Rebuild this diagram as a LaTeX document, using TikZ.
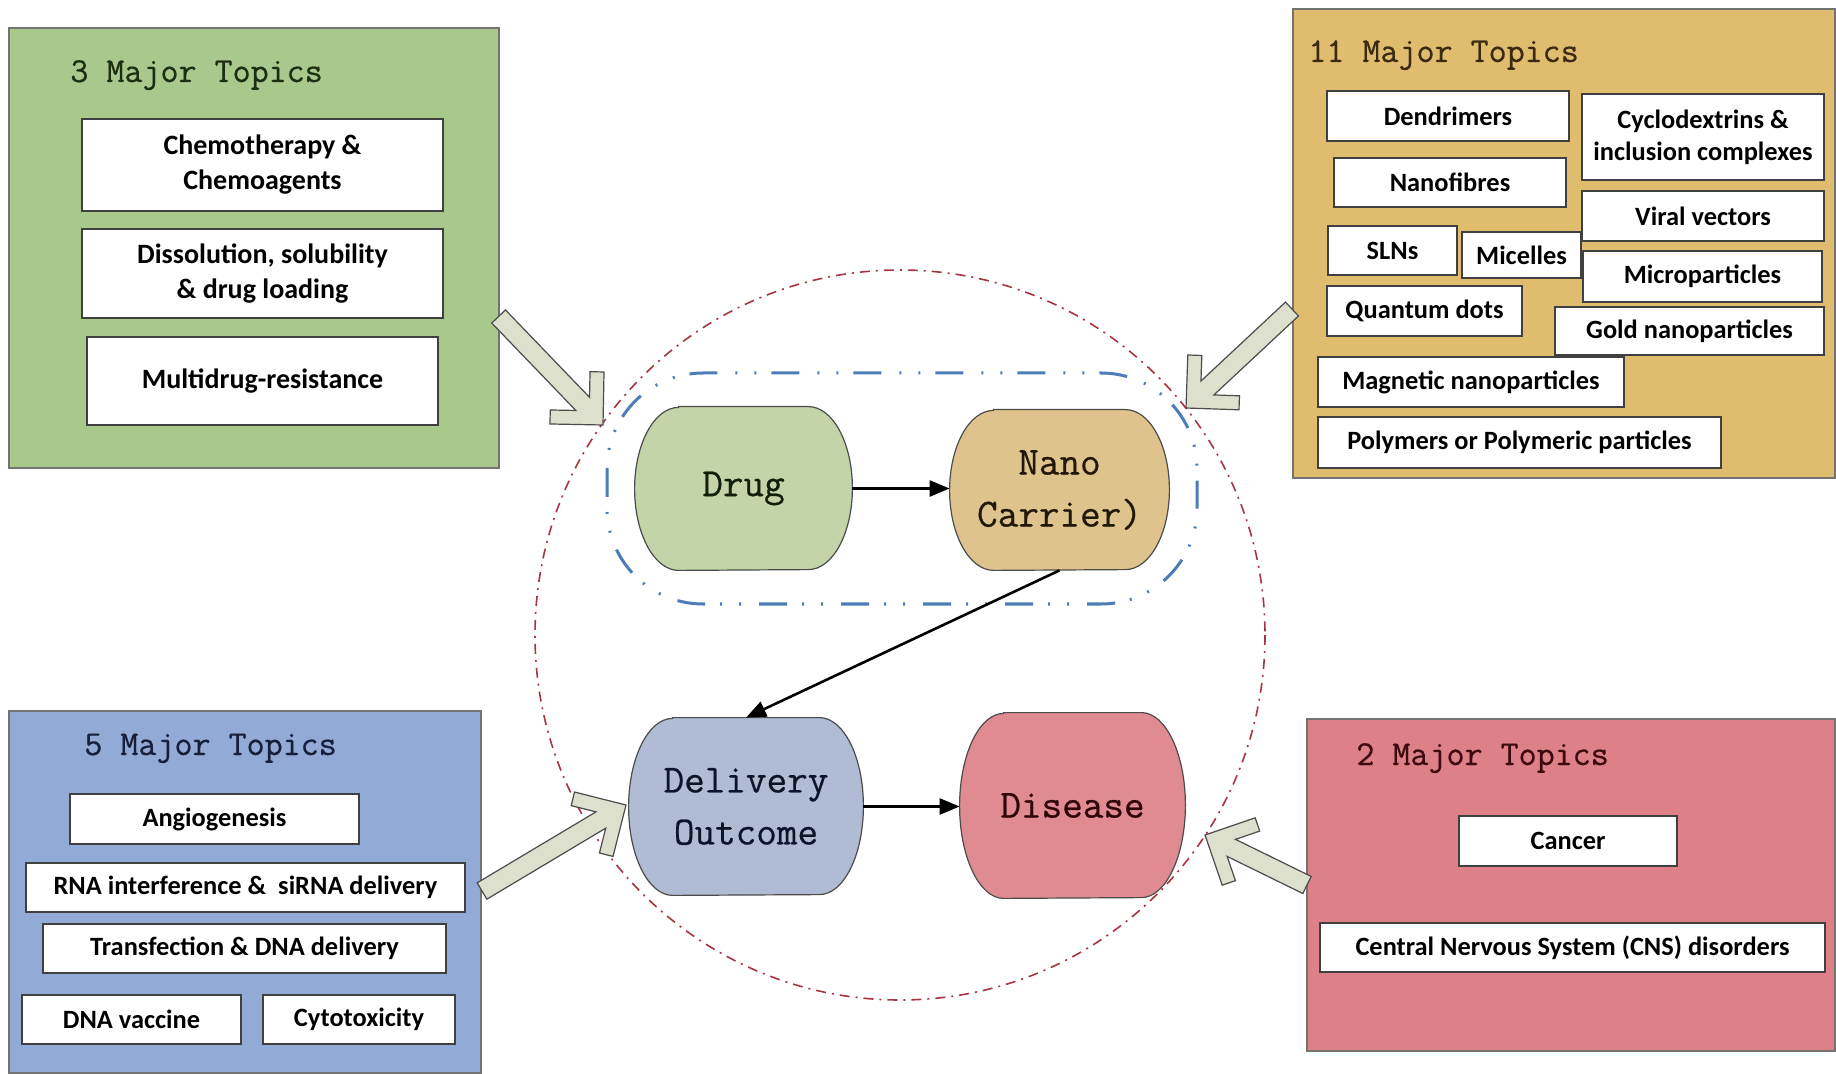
\documentclass[tikz,border=0pt]{standalone}
\usepackage{fontspec}
\newfontfamily\cbf{Carlito}
\newfontfamily\monof{Latin Modern Mono}[FakeBold=0.6]
\usetikzlibrary{arrows.meta}
\definecolor{gbg}{HTML}{A8C88C}
\definecolor{ybg}{HTML}{DFBC6E}
\definecolor{bbg}{HTML}{92AAD6}
\definecolor{rbg}{HTML}{DE8088}
\definecolor{drugc}{HTML}{C2D4A8}
\definecolor{nanoc}{HTML}{DEC48C}
\definecolor{delc}{HTML}{B0BCD4}
\definecolor{disc}{HTML}{E08A92}
\definecolor{arrowfill}{HTML}{DCE0CC}
\definecolor{circred}{HTML}{A83440}
\definecolor{blued}{HTML}{4C7DB8}
\definecolor{gtxt}{HTML}{1E2E12}
\definecolor{ytxt}{HTML}{3A2A10}
\definecolor{btxt}{HTML}{16203A}
\definecolor{rtxt}{HTML}{3E0A10}
\definecolor{gntxt}{HTML}{141E0A}
\definecolor{yntxt}{HTML}{22180A}
\definecolor{bntxt}{HTML}{0C1428}
\definecolor{rntxt}{HTML}{2E0408}
\pgfdeclarelayer{bg}
\pgfsetlayers{bg,main}
\newcommand\bigarrowshape[1]{%
  \draw[bigarr] (0,0) -- (-37.5,37.5) -- (-47.4,27.6) -- (-29.3,9.5) -- (-#1,9.5)
    -- (-#1,-9.5) -- (-29.3,-9.5) -- (-47.4,-27.6) -- (-37.5,-37.5) -- cycle;}
% barrel outline behind a node: #1 node, #2 fill, #3 half height (pt)
\newcommand\barrelshape[3]{%
  \draw[barrel, fill=#2] ([xshift=22pt]#1.north west) -- ([xshift=-22pt]#1.north east)
    arc[start angle=90, end angle=-90, x radius=22pt, y radius=#3]
    -- ([xshift=22pt]#1.south west)
    arc[start angle=270, end angle=90, x radius=22pt, y radius=#3] -- cycle;}
\tikzset{
  outerbox/.style={draw=black!55, line width=0.8pt},
  ibox/.style={draw=black!75, line width=0.7pt, fill=white, inner sep=0pt, align=center,
    font=\cbf\bfseries\fontsize{13.2pt}{16pt}\selectfont},
  gibox/.style={ibox, font=\cbf\bfseries\fontsize{14pt}{17.5pt}\selectfont},
  ttl/.style={anchor=base west, inner sep=0pt, font=\monof\fontsize{17.5pt}{20pt}\selectfont},
  core/.style={inner sep=0pt, align=center, font=\monof\fontsize{20pt}{26pt}\selectfont},
  barrel/.style={draw=black!70, line width=0.6pt},
  link/.style={line width=1.3pt, -{Triangle[length=10pt,width=8pt]}},
  bigarr/.style={draw=black!70, line width=0.6pt, fill=arrowfill, line join=miter},
  reddash/.style={draw=circred, line width=0.8pt, dash pattern=on 5pt off 3pt on 1pt off 3pt},
  bluedash/.style={draw=blued, line width=1.5pt,
    dash pattern=on 14pt off 7.5pt on 1pt off 8.5pt on 1pt off 9pt},
}
\begin{document}
\begin{tikzpicture}[x=0.5pt,y=-0.5pt]
\useasboundingbox (0,0) rectangle (1836,1074);
\begin{pgfonlayer}{bg}
\fill[white] (0,0) rectangle (1836,1074);
\end{pgfonlayer}

% outer boxes
\draw[outerbox, fill=gbg] (9,28) rectangle (499,468);
\draw[outerbox, fill=ybg] (1293,9) rectangle (1835,478);
\draw[outerbox, fill=bbg] (9,711) rectangle (481,1073);
\draw[outerbox, fill=rbg] (1307,719) rectangle (1835,1051);

% titles
\node[ttl, text=gtxt] (tg) at (70,82) {3 Major Topics};
\node[ttl, text=ytxt] (ty) at (1308,62) {11 Major Topics};
\node[ttl, text=btxt] (tb) at (84,755) {5 Major Topics};
\node[ttl, text=rtxt] (tr) at (1356,765) {2 Major Topics};

% green inner boxes
\node[gibox, minimum width=180.5pt, minimum height=46pt] (chemo) at (262.5,165) {Chemotherapy \&\\Chemoagents};
\node[gibox, minimum width=180.5pt, minimum height=44.5pt] (dissol) at (262.5,273.5) {Dissolution, solubility\\\& drug loading};
\node[gibox, minimum width=175.5pt, minimum height=44pt] (multi) at (262.5,381) {Multidrug-resistance};

% yellow inner boxes
\node[ibox, minimum width=121pt, minimum height=25pt] (dend) at (1448,116) {Dendrimers};
\node[ibox, minimum width=121pt, minimum height=43pt] (cyclo) at (1703,137) {Cyclodextrins \&\\inclusion complexes};
\node[ibox, minimum width=116pt, minimum height=24.5pt] (nanof) at (1450,182.5) {Nanofibres};
\node[ibox, minimum width=121pt, minimum height=25pt] (viral) at (1703,216) {Viral vectors};
\node[ibox, minimum width=64.5pt, minimum height=24.5pt] (sln) at (1392.5,250.5) {SLNs};
\node[ibox, minimum width=59.5pt, minimum height=23pt] (mic) at (1521.5,255) {Micelles};
\node[ibox, minimum width=119.5pt, minimum height=25.5pt] (micro) at (1702.5,276.5) {Microparticles};
\node[ibox, minimum width=97.5pt, minimum height=25pt] (quant) at (1424.5,311) {Quantum dots};
\node[ibox, minimum width=134.5pt, minimum height=24pt] (gold) at (1689.5,331) {Gold nanoparticles};
\node[ibox, minimum width=153pt, minimum height=25pt] (magn) at (1471,382) {Magnetic nanoparticles};
\node[ibox, minimum width=201.5pt, minimum height=25.5pt] (poly) at (1519.5,442.5) {Polymers or Polymeric particles};

% blue inner boxes
\node[ibox, minimum width=144.5pt, minimum height=25pt] (angio) at (214.5,819) {Angiogenesis};
\node[ibox, minimum width=219.5pt, minimum height=24.5pt] (rna) at (245.5,887.5) {RNA interference \&\ \ siRNA delivery};
\node[ibox, minimum width=201.5pt, minimum height=24.5pt] (trans) at (244.5,948.5) {Transfection \& DNA delivery};
\node[ibox, minimum width=109.5pt, minimum height=24.5pt] (dnav) at (131.5,1019.5) {DNA vaccine};
\node[ibox, minimum width=96pt, minimum height=24.5pt] (cyto) at (359,1019.5) {Cytotoxicity};

% red inner boxes
\node[ibox, minimum width=109pt, minimum height=25pt] (cancer) at (1568,841) {Cancer};
\node[ibox, minimum width=252.5pt, minimum height=24.5pt] (cns) at (1572.5,947.5) {Central Nervous System (CNS) disorders};

% central nodes
\node[core, text=gntxt, minimum width=108.5pt, minimum height=81.5pt] (drug) at (743.5,488.5) {Drug};
\node[core, text=yntxt, minimum width=109.5pt, minimum height=80pt] (nano) at (1059.5,490) {Nano\\Carrier)};
\node[core, text=bntxt, minimum width=117pt, minimum height=88.5pt] (deliv) at (746,806.5) {Delivery\\Outcome};
\node[core, text=rntxt, minimum width=112.5pt, minimum height=92.5pt] (dis) at (1072.5,805.5) {Disease};

\begin{pgfonlayer}{bg}
\draw[reddash] (900,635) circle [radius=365];
\draw[bluedash, rounded corners=48pt] (607,373) rectangle (1197,604);
\barrelshape{drug}{drugc}{40.75pt}
\barrelshape{nano}{nanoc}{40pt}
\barrelshape{deliv}{delc}{44.25pt}
\barrelshape{dis}{disc}{46.25pt}
\end{pgfonlayer}

\draw[link] (drug.east) -- (drug.east -| nano.west);
\draw[link] (nano.south) -- (deliv.north);
\draw[link] (deliv.east) -- (deliv.east -| dis.west);

% big hollow arrows
\coordinate (gtip) at (603,425);
\coordinate (ytip) at (1186,408);
\coordinate (btip) at (626,805);
\coordinate (rtip) at (1205,835);
\begin{scope}[shift={(gtip)}, rotate=-46.1]\bigarrowshape{150.6}\end{scope}
\begin{scope}[shift={(ytip)}, rotate=-136.96]\bigarrowshape{145}\end{scope}
\begin{scope}[shift={(btip)}, rotate=30.85]\bigarrowshape{167.7}\end{scope}
\begin{scope}[shift={(rtip)}, rotate=153.9]\bigarrowshape{113.6}\end{scope}
\end{tikzpicture}
\end{document}
